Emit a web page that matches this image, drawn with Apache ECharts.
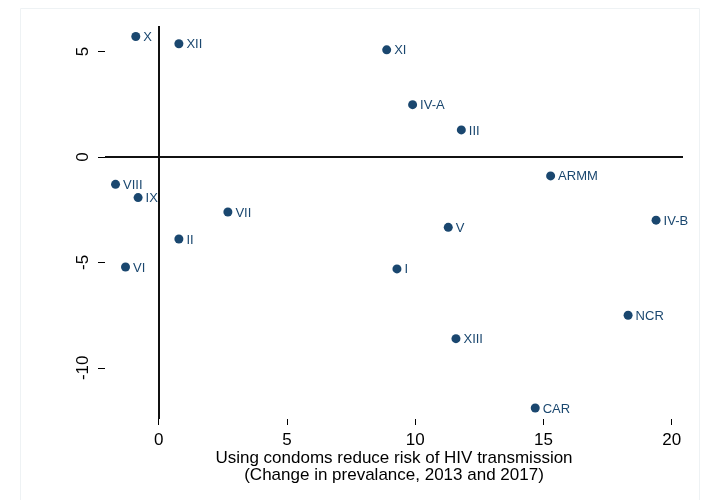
<!DOCTYPE html>
<html>
<head>
<meta charset="utf-8">
<script src="https://cdn.jsdelivr.net/npm/echarts@6/dist/echarts.min.js"></script>
<style>
  html, body { margin: 0; padding: 0; background: #fff; }
  #chart { width: 704px; height: 500px; }
</style>
</head>
<body>
<div id="chart"></div>
<script>
// regions and their changes
var regions = ['X', 'XII', 'XI', 'IV-A', 'III', 'ARMM', 'IV-B', 'V', 'VIII', 'IX', 'VII', 'II', 'VI', 'I', 'NCR', 'XIII', 'CAR'];
var condomChange = [-0.89, 0.79, 8.89, 9.90, 11.80, 15.28, 19.39, 11.29, -1.68, -0.80, 2.70, 0.79, -1.29, 9.29, 18.30, 11.59, 14.68];
var otherChange = [5.71, 5.37, 5.08, 2.48, 1.28, -0.90, -3.00, -3.34, -1.30, -1.93, -2.61, -3.89, -5.22, -5.31, -7.51, -8.62, -11.91];
var xTicks = [0, 5, 10, 15, 20];
var yTicks = [-10, -5, 0, 5];

var FONT = 'Liberation Sans, Arial, Helvetica, sans-serif';
var NAVY = '#1a476f';

var points = regions.map(function (r, i) {
  return { name: r, value: [condomChange[i], otherChange[i]] };
});

var chart = echarts.init(document.getElementById('chart'));
chart.setOption({
  animation: false,
  backgroundColor: '#fff',
  textStyle: { fontFamily: FONT },
  graphic: [{
    type: 'rect',
    shape: { x: 20.5, y: 8.5, width: 679, height: 520 },
    style: { fill: 'none', stroke: '#eef2f4', lineWidth: 1 },
    silent: true
  }],
  grid: { left: 105, right: 21, top: 26, bottom: 81 },
  xAxis: {
    type: 'value',
    min: -2.09,
    max: 20.44,
    splitLine: { show: false },
    axisLine: { show: false, onZero: false },
    axisTick: { show: true, length: 6, customValues: xTicks, lineStyle: { color: '#000', width: 1 } },
    axisLabel: { customValues: xTicks, color: '#000', fontSize: 17, margin: 13, fontFamily: FONT },
    name: 'Using condoms reduce risk of HIV transmission\n(Change in prevalance, 2013 and 2017)',
    nameLocation: 'middle',
    nameGap: 31,
    nameMoveOverlap: false,
    nameTextStyle: { color: '#000', fontSize: 17, lineHeight: 17, fontFamily: FONT }
  },
  yAxis: {
    type: 'value',
    min: -12.43,
    max: 6.21,
    splitLine: { show: false },
    axisLine: { show: false, onZero: false },
    axisTick: { show: true, length: 7, customValues: yTicks, lineStyle: { color: '#000', width: 1 } },
    axisLabel: { customValues: yTicks, rotate: 90, color: '#000', fontSize: 17, margin: 13, fontFamily: FONT }
  },
  series: [{
    type: 'scatter',
    data: points,
    symbolSize: 9,
    itemStyle: { color: NAVY, opacity: 1 },
    label: {
      show: true,
      position: 'right',
      distance: 3,
      offset: [0, 1],
      formatter: '{b}',
      color: NAVY,
      fontSize: 13,
      fontFamily: FONT
    },
    markLine: {
      silent: true,
      symbol: 'none',
      label: { show: false },
      lineStyle: { color: '#111', width: 2, type: 'solid' },
      data: [{ xAxis: 0 }, { yAxis: 0 }]
    }
  }]
});
</script>
</body>
</html>
